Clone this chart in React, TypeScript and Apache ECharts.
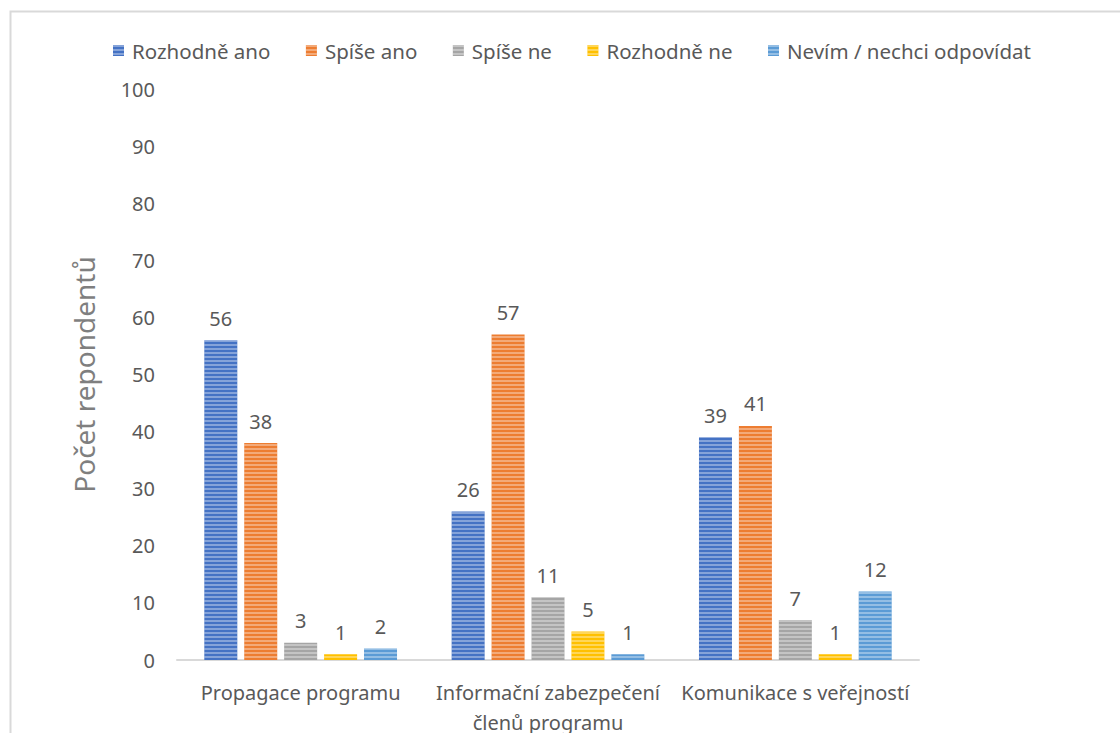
import React, { useEffect, useRef } from "react";
import * as echarts from "echarts";

const categories = ["Propagace programu", "Informační zabezpečení\nčlenů programu", "Komunikace s veřejností"];
const seriesNames = ["Rozhodně ano", "Spíše ano", "Spíše ne", "Rozhodně ne", "Nevím / nechci odpovídat"];
const rozhodneAno = [56, 26, 39];
const spiseAno = [38, 57, 41];
const spiseNe = [3, 11, 7];
const rozhodneNe = [1, 5, 1];
const nevim = [2, 1, 12];
const colors = ["#4472C4", "#ED7D31", "#A5A5A5", "#FFC000", "#5B9BD5"];
const yTicks = [0, 10, 20, 30, 40, 50, 60, 70, 80, 90, 100];

const FONT = "'Noto Sans', sans-serif";
const TXT = "#595959";

export default function App() {
  const ref = useRef<HTMLDivElement>(null);
  useEffect(() => {
    if (!ref.current) return;
    const chart = echarts.init(ref.current, null, { renderer: "svg" });
    const data = [rozhodneAno, spiseAno, spiseNe, rozhodneNe, nevim];
    chart.setOption({
      animation: false,
      backgroundColor: "#fff",
      textStyle: { fontFamily: FONT },
      graphic: [
        {
          type: "rect",
          shape: { x: 10.5, y: 11.5, width: 1200, height: 800 },
          style: { fill: "none", stroke: "#D9D9D9", lineWidth: 2 },
          silent: true,
        },
      ],
      legend: {
        top: 35,
        left: 108,
        itemWidth: 11,
        itemHeight: 11,
        itemGap: 35.5,
        icon: "rect",
        textStyle: { fontFamily: FONT, fontSize: 20.5, color: TXT, padding: [0, 0, 0, 3] },
        data: seriesNames,
      },
      grid: { left: 177, right: 201, top: 89, bottom: 73, containLabel: false, outerBoundsMode: "none" },
      xAxis: {
        type: "category",
        data: categories,
        axisLine: { lineStyle: { color: "#D9D9D9", width: 2 } },
        axisTick: { show: false },
        axisLabel: {
          interval: 0,
          fontFamily: FONT,
          fontSize: 20,
          color: TXT,
          margin: 17,
          lineHeight: 30,
        },
      },
      yAxis: {
        type: "value",
        min: 0,
        max: 100,
        interval: 10,
        name: "Počet repondentů",
        nameLocation: "middle",
        nameGap: 79,
        nameTextStyle: { fontFamily: FONT, fontSize: 28, color: "#7F7F7F" },
        axisLine: { show: false },
        axisTick: { show: false },
        splitLine: { show: false },
        axisLabel: {
          fontFamily: FONT,
          fontSize: 20,
          color: TXT,
          margin: 22,
          formatter: (v: number) => (yTicks.includes(v) ? String(v) : ""),
        },
      },
      series: seriesNames.map((name, i) => ({
        name,
        type: "bar",
        data: data[i],
        barWidth: 33,
        barGap: "21%",
        barCategoryGap: "22%",
        itemStyle: {
          color: colors[i],
          decal: {
            symbol: "rect",
            symbolSize: 1,
            dashArrayX: [1, 0],
            dashArrayY: [1.5, 1.5],
            color: "rgba(255,255,255,0.35)",
            rotation: 0,
          },
        },
        label: {
          show: true,
          position: "top",
          distance: 12,
          fontFamily: FONT,
          fontSize: 20,
          color: TXT,
        },
      })),
    });
    return () => chart.dispose();
  }, []);
  return (
    <div
      ref={ref}
      style={{ position: "fixed", left: 0, top: 0, width: 1120, height: 733 }}
    />
  );
}
